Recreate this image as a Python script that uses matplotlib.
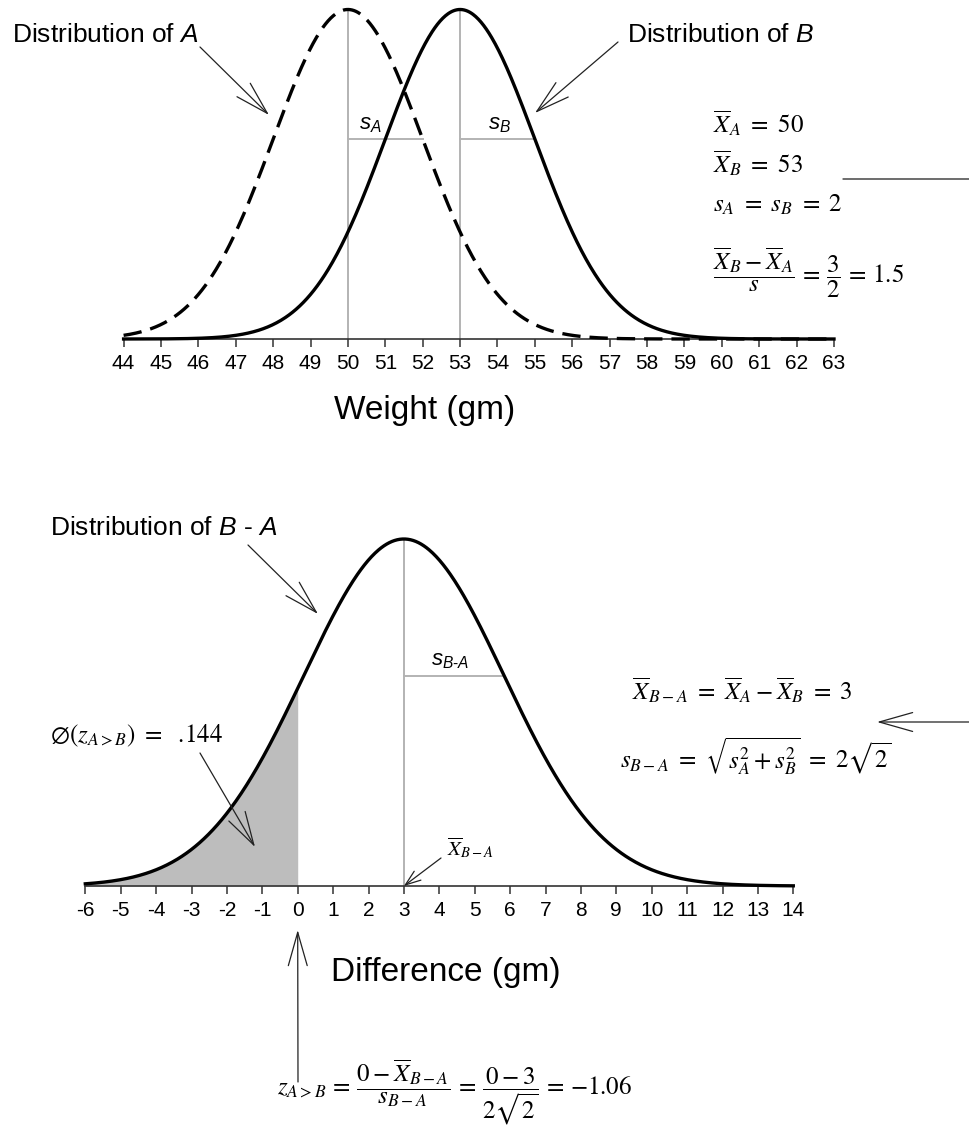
import numpy as np
import matplotlib.pyplot as plt

plt.rcParams['font.family'] = ['Liberation Sans', 'DejaVu Sans']
plt.rcParams['axes.unicode_minus'] = False
plt.rcParams['mathtext.fontset'] = 'stix'
# sans italic letters for the short labels (math_fontfamily='custom')
plt.rcParams['mathtext.rm'] = 'Liberation Sans'
plt.rcParams['mathtext.it'] = 'Liberation Sans:italic'

# values
mean_a = 50
mean_b = 53
sd_ab = 2
mean_diff = mean_b - mean_a
sd_diff = np.sqrt(sd_ab ** 2 + sd_ab ** 2)
weight_ticks = list(range(44, 64))
diff_ticks = list(range(-6, 15))
z_cut = 0

W, H = 969, 1125
fig = plt.figure(figsize=(W / 100, H / 100), dpi=100)


def P(x, y):
    # pixel position measured from the top-left corner
    return (x, H - y)


def pdf(x, m, s):
    return np.exp(-0.5 * ((x - m) / s) ** 2) / (s * np.sqrt(2 * np.pi))


def arrow(ax, tail, head, hl=24, hw=6.8, coords='figure pixels'):
    ax.annotate('', xy=head, xycoords=coords, xytext=tail,
                textcoords='figure pixels',
                arrowprops=dict(arrowstyle=f'->,head_length={hl / 10},head_width={hw / 10}',
                                mutation_scale=10, lw=0.9, color='#222222',
                                shrinkA=0, shrinkB=0))


def style_axis(ax, ticks):
    for sp in ['left', 'right', 'top']:
        ax.spines[sp].set_visible(False)
    ax.spines['bottom'].set_color('#333333')
    ax.spines['bottom'].set_linewidth(1.2)
    ax.set_yticks([])
    ax.set_xticks(ticks)
    ax.tick_params(axis='x', direction='out', length=6, width=1.1, color='#333333',
                   labelsize=15, pad=5)
    ax.patch.set_alpha(0)


gray = '#b3b3b3'
fs_eq = 18

# ---- top panel: A and B ----
ax1 = fig.add_axes([123.6 / W, 1 - 339 / H, (834 - 123.6) / W, (339 - 9.5) / H])
x1 = np.linspace(weight_ticks[0], weight_ticks[-1], 800)
peak1 = pdf(mean_a, mean_a, sd_ab)
ax1.set_xlim(weight_ticks[0], weight_ticks[-1])
ax1.set_ylim(0, peak1)
style_axis(ax1, weight_ticks)

for m in (mean_a, mean_b):
    ax1.plot([m, m], [0, peak1], color=gray, lw=1.4, zorder=1)
    h = pdf(m + sd_ab, m, sd_ab)
    ax1.plot([m, m + sd_ab], [h, h], color=gray, lw=1.4, zorder=1)

ax1.plot(x1, pdf(x1, mean_a, sd_ab), color='black', lw=2.4, dashes=(5.5, 2.7),
         clip_on=False, zorder=3)
ax1.plot(x1, pdf(x1, mean_b, sd_ab), color='black', lw=2.4, clip_on=False, zorder=3)

h_sd = pdf(mean_a + sd_ab, mean_a, sd_ab)
ax1.annotate('$s_A$', xy=(mean_a + 0.6, h_sd), xytext=(0, 3), textcoords='offset points',
             ha='center', va='bottom', fontsize=16, math_fontfamily='custom')
ax1.annotate('$s_B$', xy=(mean_b + 1.04, h_sd), xytext=(0, 3), textcoords='offset points',
             ha='center', va='bottom', fontsize=16, math_fontfamily='custom')

ax1.annotate('Weight (gm)', xy=P(425, 411), xycoords='figure pixels',
             ha='center', va='center', fontsize=24, annotation_clip=False)

fig.text(12 / W, 1 - 35 / H, 'Distribution of $A$', fontsize=19, va='center',
         math_fontfamily='custom')
arrow(ax1, P(200, 47), P(269, 115))
fig.text(627 / W, 1 - 35 / H, 'Distribution of $B$', fontsize=19, va='center',
         math_fontfamily='custom')
arrow(ax1, P(618, 42), P(535, 113))

fig.text(713 / W, 1 - 133 / H, r'$\overline{X}_A\ =\ 50$', fontsize=fs_eq, va='baseline')
fig.text(713 / W, 1 - 173 / H, r'$\overline{X}_B\ =\ 53$', fontsize=fs_eq, va='baseline')
fig.text(713 / W, 1 - 212 / H, r'$s_A\ =\ s_B\ =\ 2$', fontsize=fs_eq, va='baseline')
fig.text(713 / W, 1 - 283 / H,
         r'$\dfrac{\overline{X}_B - \overline{X}_A}{s}\,=\,\dfrac{3}{2}\,=\,1.5$',
         fontsize=fs_eq, va='baseline')

# line leaving to the right edge
ax1.annotate('', xy=P(969, 179), xycoords='figure pixels', xytext=P(843, 179),
             textcoords='figure pixels',
             arrowprops=dict(arrowstyle='-', lw=1.0, color='#333333',
                             shrinkA=0, shrinkB=0))

# ---- bottom panel: B - A ----
ax2 = fig.add_axes([85.3 / W, 1 - 886 / H, (793.3 - 85.3) / W, (886 - 539) / H])
x2 = np.linspace(diff_ticks[0], diff_ticks[-1], 800)
peak2 = pdf(mean_diff, mean_diff, sd_diff)
ax2.set_xlim(diff_ticks[0], diff_ticks[-1])
ax2.set_ylim(0, peak2)
style_axis(ax2, diff_ticks)

xs = np.append(x2[x2 < z_cut], z_cut)
ax2.fill_between(xs, pdf(xs, mean_diff, sd_diff), color='#bdbdbd', lw=0, zorder=1)
ax2.plot([mean_diff, mean_diff], [0, peak2], color=gray, lw=1.4, zorder=1)
h2 = pdf(mean_diff + sd_diff, mean_diff, sd_diff)
ax2.plot([mean_diff, mean_diff + sd_diff], [h2, h2], color=gray, lw=1.4, zorder=1)
ax2.plot(x2, pdf(x2, mean_diff, sd_diff), color='black', lw=2.4, clip_on=False, zorder=3)

ax2.annotate(r'$s_{B\text{-}A}$', xy=(mean_diff + 1.3, h2), xytext=(0, 3),
             textcoords='offset points', ha='center', va='bottom', fontsize=16,
             math_fontfamily='custom')

ax2.annotate('Difference (gm)', xy=P(446, 972), xycoords='figure pixels',
             ha='center', va='center', fontsize=24, annotation_clip=False)

fig.text(50 / W, 1 - 528 / H, 'Distribution of $B$ - $A$', fontsize=19, va='center',
         math_fontfamily='custom')
arrow(ax2, P(248, 545), P(318, 614))

fig.text(50 / W, 1 - 742 / H, r'$\emptyset(z_{A>B})\ =$  .144', fontsize=fs_eq,
         va='baseline', fontfamily='STIXGeneral')
arrow(ax2, P(200, 753), P(255, 847))

fig.text(447 / W, 1 - 855 / H, r'$\overline{X}_{B-A}$', fontsize=15, va='baseline')
ax2.annotate('', xy=(mean_diff, 0), xycoords='data', xytext=P(441, 858),
             textcoords='figure pixels',
             arrowprops=dict(arrowstyle='->,head_length=1.1,head_width=0.4',
                             mutation_scale=10, lw=0.9, color='#222222',
                             shrinkA=0, shrinkB=0))

fig.text(632 / W, 1 - 700 / H,
         r'$\overline{X}_{B-A}\ =\ \overline{X}_A - \overline{X}_B\ =\ 3$',
         fontsize=fs_eq, va='baseline')
fig.text(620 / W, 1 - 768 / H,
         r'$s_{B-A}\ =\ \sqrt{s_A^2 + s_B^2}\ =\ 2\sqrt{2}$',
         fontsize=fs_eq, va='baseline')
arrow(ax2, P(969, 722), P(877, 722))

# z arrow up to the cut point
ax2.annotate('', xy=(z_cut, H - 930), xycoords=('data', 'figure pixels'),
             xytext=P(298, 1082), textcoords='figure pixels',
             arrowprops=dict(arrowstyle='->,head_length=2.4,head_width=0.68',
                             mutation_scale=10, lw=0.9, color='#222222',
                             shrinkA=0, shrinkB=0))
fig.text(277 / W, 1 - 1094 / H,
         r'$z_{A>B}\,=\,\dfrac{0 - \overline{X}_{B-A}}{s_{B-A}}\,=\,'
         r'\dfrac{0-3}{2\sqrt{2}}\,=\,{-}1.06$',
         fontsize=fs_eq, va='baseline')

fig.savefig('out.png', dpi=100, facecolor='white')
